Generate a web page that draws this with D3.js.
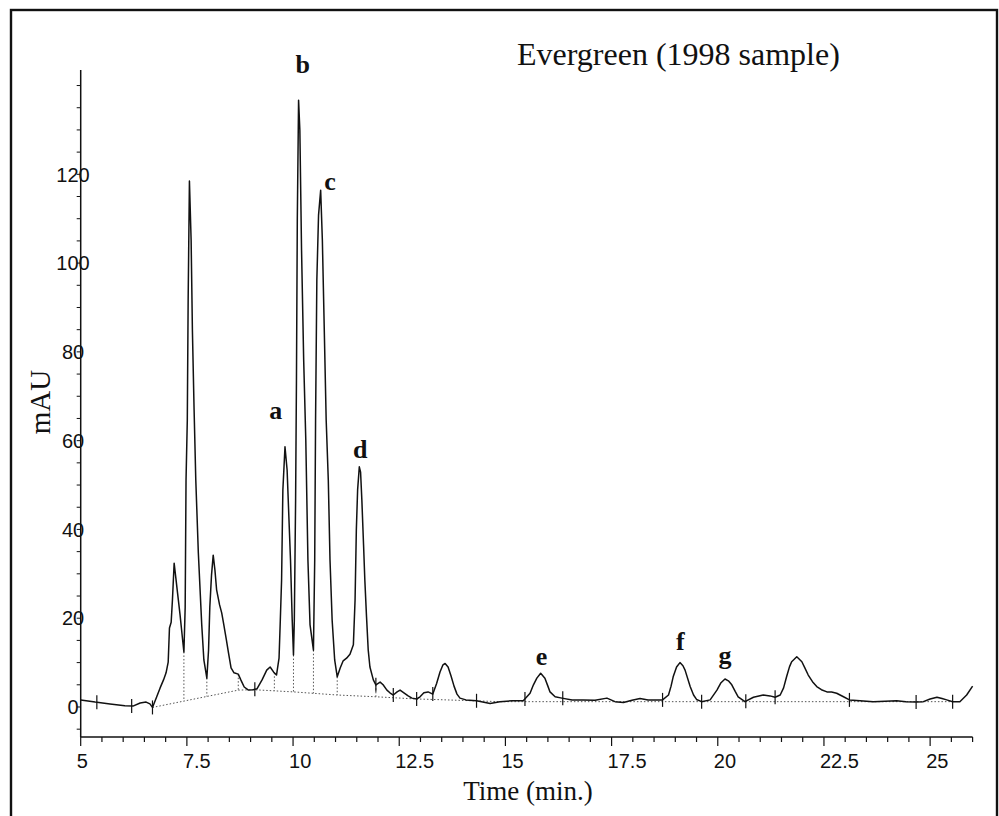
<!DOCTYPE html>
<html>
<head>
<meta charset="utf-8">
<script src="https://cdn.jsdelivr.net/npm/d3@7"></script>
<style>
  body { margin: 0; background: #fff; }
  svg { display: block; }
</style>
</head>
<body>
<script>
// chromatogram trace, time (min) and absorbance (mAU)
var timeMin = [5.00,5.34,5.69,6.04,6.23,6.40,6.54,6.63,6.69,6.79,6.87,6.95,7.01,7.06,7.09,7.13,7.16,7.20,7.24,7.28,
  7.34,7.40,7.43,7.46,7.48,7.51,7.53,7.56,7.60,7.63,7.67,7.71,7.77,7.85,7.90,7.97,8.01,8.04,8.08,8.12,
  8.16,8.20,8.27,8.32,8.37,8.43,8.48,8.54,8.61,8.71,8.77,8.85,8.95,9.06,9.15,9.27,9.38,9.46,9.54,9.61,
  9.67,9.70,9.73,9.76,9.81,9.86,9.90,9.94,9.98,10.01,10.03,10.06,10.08,10.10,10.13,10.16,10.20,10.25,10.30,10.35,
  10.40,10.48,10.51,10.53,10.56,10.60,10.65,10.69,10.74,10.78,10.83,10.87,10.92,10.98,11.04,11.11,11.18,11.26,11.34,11.42,
  11.46,11.49,11.52,11.56,11.59,11.62,11.66,11.69,11.73,11.77,11.81,11.89,11.95,12.05,12.12,12.21,12.28,12.36,12.45,12.52,
  12.61,12.71,12.80,12.91,12.99,13.08,13.18,13.29,13.38,13.46,13.53,13.58,13.65,13.72,13.79,13.86,13.93,14.07,14.32,14.64,
  14.87,15.16,15.42,15.58,15.66,15.74,15.83,15.93,16.00,16.05,16.17,16.33,16.57,16.83,17.11,17.39,17.58,17.78,17.98,18.17,
  18.36,18.56,18.70,18.84,18.90,18.95,19.03,19.11,19.18,19.23,19.35,19.43,19.50,19.62,19.82,19.98,20.07,20.17,20.25,20.33,
  20.41,20.48,20.64,20.84,21.07,21.23,21.35,21.47,21.55,21.62,21.69,21.74,21.86,21.98,22.05,22.13,22.23,22.33,22.44,22.57,
  22.68,22.80,22.96,23.10,23.35,23.66,23.94,24.21,24.43,24.67,24.84,25.00,25.16,25.28,25.39,25.53,25.70,25.86,26.00];
var mAU = [1.6,1.1,0.7,0.3,0.2,0.9,1.1,0.7,-0.1,2.3,4.3,6.1,7.7,10.1,17.8,19.1,24.1,32.4,29.1,25.7,
  20.7,15.1,12.4,22.5,51.1,64.6,91.7,118.5,105.2,84.9,66.9,51.1,34.7,18.5,10.6,6.5,12.8,22.5,29.7,34.2,
  30.9,26.4,23.0,21.2,18.5,15.1,12.2,8.8,7.7,7.4,6.1,4.5,3.8,3.9,4.1,6.1,8.3,9.0,7.9,7.2,
  11.0,19.6,28.6,48.9,58.6,53.4,43.2,33.1,19.6,11.7,19.6,46.6,73.6,109.7,136.7,130.0,102.9,78.2,60.1,33.1,
  18.5,12.8,33.1,64.6,96.2,110.8,116.4,105.2,82.7,64.6,51.1,33.1,19.6,10.6,6.8,8.8,10.4,11.0,11.9,14.0,
  24.1,39.9,48.9,54.1,52.9,46.6,36.5,28.6,20.3,12.8,9.0,6.1,5.0,5.6,5.0,3.8,3.2,2.7,3.4,3.8,
  3.2,2.5,2.0,1.8,2.3,3.2,3.4,2.9,5.3,7.9,9.5,9.8,9.0,7.0,4.7,2.9,2.0,1.6,1.4,0.8,
  1.2,1.4,1.4,3.1,5.0,6.5,7.6,6.5,4.7,3.4,2.3,2.0,1.6,1.6,1.5,2.0,1.2,1.0,1.5,1.9,
  1.6,1.6,1.6,2.7,4.7,6.8,9.0,10.0,9.3,8.3,4.6,2.7,1.7,1.2,1.6,3.8,5.4,6.3,5.9,5.0,
  3.5,2.3,1.2,2.2,2.7,2.5,2.2,2.7,4.3,6.8,9.1,10.2,11.3,10.2,8.8,7.2,5.7,4.6,3.9,3.4,
  3.4,3.1,2.3,1.6,1.4,1.2,1.3,1.4,1.2,1.1,1.2,1.8,2.2,1.9,1.6,1.2,1.2,2.7,4.7];

// integration baseline drawn by the integrator
var baseTime = [6.69,8.71,9.06,10.01,11.04,11.95,12.91,13.29,14.87,20.64,25.53];
var baseMAU  = [-0.1,3.8,3.9,3.4,2.7,2.3,1.8,1.7,1.2,1.2,1.2];

// peak split lines and event marks
var dropTimes = [7.43,7.97,8.71,9.56,10.01,10.48,11.04,11.95];
var markTimes = [5.38,6.20,6.69,9.10,11.95,12.36,12.91,13.29,14.32,15.46,16.35,18.70,19.62,20.66,21.35,23.10,24.67,25.53];

// peak letters and where they sit (time, mAU)
var peakLetters = ["a","b","c","d","e","f","g"];
var peakLabelTime = [9.59,10.23,10.87,11.58,15.85,19.12,20.17];
var peakLabelMAU = [64.9,142.8,116.4,56.1,9.5,12.8,9.7];

var xMajor = [5,7.5,10,12.5,15,17.5,20,22.5,25];
var yLabels = [0,20,40,60,80,100,120];

var width = 999, height = 816;
var svg = d3.select("body").append("svg")
    .attr("width", width)
    .attr("height", height);

// frame
svg.append("rect")
    .attr("x", 11).attr("y", 10)
    .attr("width", 986).attr("height", 830)
    .attr("fill", "none")
    .attr("stroke", "#111")
    .attr("stroke-width", 2.4);

var x = d3.scaleLinear().domain([5, 26]).range([80.7, 972.6]);
var y = d3.scaleLinear().domain([-6.76, 143.5]).range([737, 70]);

var axisG = svg.append("g").attr("stroke", "#111").attr("stroke-width", 1.5);

// y axis
axisG.append("line")
    .attr("x1", x(5)).attr("x2", x(5))
    .attr("y1", y(143.5)).attr("y2", y(-6.76));
axisG.selectAll(".ytick")
    .data(d3.range(-5, 141, 5))
    .enter().append("line")
    .attr("stroke-width", 1)
    .attr("x1", x(5) - 4).attr("x2", x(5))
    .attr("y1", function(d){ return y(d); })
    .attr("y2", function(d){ return y(d); });

// x axis
axisG.append("line")
    .attr("x1", x(5)).attr("x2", x(26))
    .attr("y1", y(-6.76)).attr("y2", y(-6.76));
axisG.selectAll(".xtick")
    .data(d3.range(5, 26.01, 0.5))
    .enter().append("line")
    .attr("stroke-width", 1.2)
    .attr("x1", function(d){ return x(d); })
    .attr("x2", function(d){ return x(d); })
    .attr("y1", y(-6.76))
    .attr("y2", function(d){ return y(-6.76) + (d % 2.5 === 0 ? 9 : 5); });

svg.selectAll(".xlab")
    .data(xMajor)
    .enter().append("text")
    .attr("x", function(d){ return x(d) - 4; })
    .attr("y", 768)
    .attr("font-family", "Liberation Sans, Arial, sans-serif")
    .attr("font-size", 20)
    .attr("fill", "#111")
    .text(function(d){ return d; });

svg.selectAll(".ylab")
    .data(yLabels)
    .enter().append("text")
    .attr("x", 73)
    .attr("y", function(d){ return y(d); })
    .attr("dy", "0.36em")
    .attr("text-anchor", "middle")
    .attr("font-family", "Liberation Sans, Arial, sans-serif")
    .attr("font-size", 20)
    .attr("fill", "#111")
    .text(function(d){ return d; });

// titles
svg.append("text")
    .attr("x", 517).attr("y", 65)
    .attr("font-family", "Liberation Serif, Times New Roman, serif")
    .attr("font-size", 32)
    .attr("fill", "#111")
    .text("Evergreen (1998 sample)");

svg.append("text")
    .attr("x", 528).attr("y", 800)
    .attr("text-anchor", "middle")
    .attr("font-family", "Liberation Serif, Times New Roman, serif")
    .attr("font-size", 27)
    .attr("fill", "#111")
    .text("Time (min.)");

svg.append("text")
    .attr("transform", "translate(50,402) rotate(-90)")
    .attr("text-anchor", "middle")
    .attr("font-family", "Liberation Serif, Times New Roman, serif")
    .attr("font-size", 29)
    .attr("fill", "#111")
    .text("mAU");

// helpers to read the trace at a given time
function interp(ts, vs, t) {
    var i = d3.bisectLeft(ts, t);
    if (i <= 0) return vs[0];
    if (i >= ts.length) return vs[vs.length - 1];
    var f = (t - ts[i-1]) / (ts[i] - ts[i-1]);
    return vs[i-1] + f * (vs[i] - vs[i-1]);
}

// integration baseline (dotted)
var baseLine = d3.line()
    .x(function(d, i){ return x(baseTime[i]); })
    .y(function(d, i){ return y(baseMAU[i]); });
svg.append("path")
    .attr("d", baseLine(baseTime))
    .attr("fill", "none")
    .attr("stroke", "#555")
    .attr("stroke-width", 1)
    .attr("stroke-dasharray", "1.5,2");

svg.selectAll(".drop")
    .data(dropTimes)
    .enter().append("line")
    .attr("x1", function(d){ return x(d); })
    .attr("x2", function(d){ return x(d); })
    .attr("y1", function(d){ return y(interp(timeMin, mAU, d)); })
    .attr("y2", function(d){ return y(interp(baseTime, baseMAU, d)); })
    .attr("stroke", "#555")
    .attr("stroke-width", 1)
    .attr("stroke-dasharray", "1.5,2");

// trace
var trace = d3.line()
    .x(function(d, i){ return x(timeMin[i]); })
    .y(function(d){ return y(d); });
svg.append("path")
    .attr("d", trace(mAU))
    .attr("fill", "none")
    .attr("stroke", "#111")
    .attr("stroke-width", 1.5)
    .attr("stroke-linejoin", "round");

svg.selectAll(".mark")
    .data(markTimes)
    .enter().append("line")
    .attr("x1", function(d){ return x(d); })
    .attr("x2", function(d){ return x(d); })
    .attr("y1", function(d){ return y(interp(timeMin, mAU, d)) - 7; })
    .attr("y2", function(d){ return y(interp(timeMin, mAU, d)) + 7; })
    .attr("stroke", "#111")
    .attr("stroke-width", 1.2);

// peak letters
svg.selectAll(".peak")
    .data(peakLetters)
    .enter().append("text")
    .attr("x", function(d, i){ return x(peakLabelTime[i]); })
    .attr("y", function(d, i){ return y(peakLabelMAU[i]); })
    .attr("text-anchor", "middle")
    .attr("font-family", "Liberation Serif, Times New Roman, serif")
    .attr("font-weight", "bold")
    .attr("font-size", 26)
    .attr("fill", "#111")
    .text(function(d){ return d; });
</script>
</body>
</html>
